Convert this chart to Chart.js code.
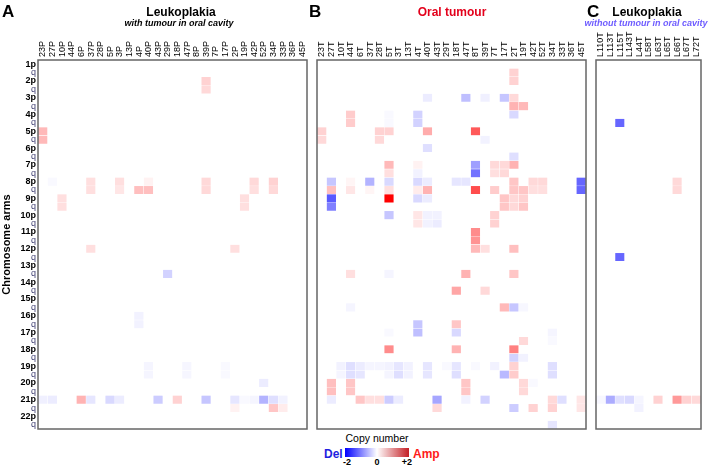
<!DOCTYPE html>
<html>
<head>
<meta charset="utf-8">
<script src="https://cdn.jsdelivr.net/npm/chart.js@4.4.0/dist/chart.umd.min.js"></script>
<style>
  body { margin: 0; width: 709px; height: 467px; background: #fff; position: relative; overflow: hidden;
         font-family: "Liberation Sans", Arial, sans-serif; }
  canvas { position: absolute; top: 0; }
  .txt { position: absolute; white-space: nowrap; line-height: 1; font-weight: bold; }
  .mid { transform: translateX(-50%); }
</style>
</head>
<body>
<canvas id="chart-a" width="310" height="432" style="left:0"></canvas>
<canvas id="chart-b" width="275" height="432" style="left:314px"></canvas>
<canvas id="chart-c" width="111" height="432" style="left:593px"></canvas>

<div class="txt" style="left:2px;top:3px;font-size:17px">A</div>
<div class="txt mid" style="left:181px;top:6px;font-size:12px">Leukoplakia</div>
<div class="txt mid" style="left:179px;top:19px;font-size:9px;font-style:italic">with tumour in oral cavity</div>

<div class="txt" style="left:309px;top:3px;font-size:17px">B</div>
<div class="txt mid" style="left:452px;top:6px;font-size:12px;color:#e3001b">Oral tumour</div>

<div class="txt" style="left:587px;top:3px;font-size:17px">C</div>
<div class="txt mid" style="left:647px;top:6px;font-size:12px">Leukoplakia</div>
<div class="txt mid" style="left:646px;top:19px;font-size:9px;font-style:italic;color:#6e5cff">without tumour in oral cavity</div>

<div class="txt mid" style="left:377px;top:433px;font-size:10.5px;font-weight:normal">Copy number</div>
<div style="position:absolute;left:345px;top:448px;width:64px;height:9px;background:linear-gradient(to right,#0000ff,#ffffff 50%,#c41e24)"></div>
<div class="txt" style="left:324px;top:448px;font-size:12px;color:#1f1fe0">Del</div>
<div class="txt" style="left:413px;top:448px;font-size:12px;color:#ff1a1a">Amp</div>
<div class="txt mid" style="left:347px;top:458px;font-size:9px">-2</div>
<div class="txt mid" style="left:377px;top:458px;font-size:9px">0</div>
<div class="txt mid" style="left:407px;top:458px;font-size:9px">+2</div>

<script>
const arms = ['1p','1q','2p','2q','3p','3q','4p','4q','5p','5q','6p','6q','7p','7q','8p','8q',
  '9p','9q','10p','10q','11p','11q','12p','12q','13p','13q','14p','14q','15p','15q','16p','16q',
  '17p','17q','18p','18q','19p','19q','20p','20q','21p','21q','22p','22q'];
const armLabels = arms.map(a => a.endsWith('q') ? 'q' : a);

const colsA = ['23P','27P','10P','44P','6P','37P','28P','5P','3P','13P','4P','40P','43P','29P',
  '18P','47P','8P','39P','7P','17P','2P','19P','42P','52P','34P','33P','36P','45P'];
const colsB = ['23T','27T','10T','44T','6T','37T','28T','5T','3T','13T','4T','40T','43T','29T',
  '18T','47T','8T','39T','7T','17T','2T','19T','42T','52T','34T','33T','36T','45T'];
const colsC = ['L110T','L113T','L115T','L143T','L44T','L58T','L63T','L65T','L66T','L67T','L72T'];

// copy number calls: [sample, arm, value]
const cellsA = [
  ['39P','2p',0.35],['39P','2q',0.3],
  ['23P','5p',0.55],['23P','5q',0.55],
  ['27P','8p',-0.05],['37P','8p',0.25],['3P','8p',0.25],['40P','8p',0.1],['39P','8p',0.3],['42P','8p',0.3],['34P','8p',0.35],
  ['37P','8q',0.25],['3P','8q',0.2],['4P','8q',0.5],['40P','8q',0.5],['39P','8q',0.3],['42P','8q',0.25],['34P','8q',0.3],
  ['10P','9p',0.25],['10P','9q',0.25],['19P','9p',0.25],['19P','9q',0.25],
  ['37P','12p',0.25],['2P','12p',0.25],
  ['29P','13q',-0.35],
  ['4P','16p',-0.1],['4P','16q',-0.1],
  ['40P','19p',-0.08],['40P','19q',-0.08],['47P','19p',-0.07],['47P','19q',-0.07],['17P','19p',-0.05],['17P','19q',-0.05],
  ['52P','20p',-0.15],
  ['23P','21p',-0.12],['27P','21p',-0.15],['6P','21p',0.6],['37P','21p',-0.2],['5P','21p',-0.3],['3P','21p',-0.15],
  ['43P','21p',-0.4],['18P','21p',0.35],['39P','21p',-0.45],['2P','21p',-0.2],['19P','21p',-0.05],['42P','21p',-0.08],
  ['52P','21p',-0.6],['34P','21p',-0.25],['33P','21p',-0.1],
  ['2P','21q',0.1],['34P','21q',0.45],['33P','21q',0.15]
];

const cellsB = [
  ['2T','1q',0.35],['2T','2p',0.35],
  ['40T','3p',-0.15],['47T','3p',-0.5],['39T','3p',-0.12],['17T','3p',-0.45],['2T','3p',0.3],
  ['2T','3q',0.6],['19T','3q',0.55],
  ['44T','4p',0.4],['5T','4p',-0.05],['4T','4p',-0.35],['2T','4p',-0.3],
  ['44T','4q',0.4],['5T','4q',-0.05],['4T','4q',-0.35],
  ['23T','5p',0.35],['28T','5p',0.35],['5T','5p',0.35],['40T','5p',0.65],['8T','5p',1.3],
  ['23T','5q',0.3],['28T','5q',0.3],['39T','5q',-0.1],
  ['40T','6p',-0.25],['2T','6q',-0.25],
  ['5T','7p',0.55],['4T','7p',0.1],['8T','7p',-0.75],['7T','7p',0.3],['17T','7p',0.3],['2T','7p',0.6],
  ['5T','7q',0.25],['4T','7q',-0.1],['8T','7q',-1.1],['7T','7q',0.25],['17T','7q',0.3],
  ['27T','8p',-0.45],['44T','8p',0.08],['37T','8p',-0.6],['5T','8p',-0.3],['4T','8p',-0.3],['40T','8p',-0.15],
  ['18T','8p',-0.2],['47T','8p',-0.2],['2T','8p',0.45],['42T','8p',0.3],['52T','8p',0.3],['45T','8p',-1.2],
  ['27T','8q',0.5],['44T','8q',0.2],['37T','8q',0.08],['5T','8q',0.25],['4T','8q',0.15],['40T','8q',0.6],
  ['8T','8q',1.4],['7T','8q',0.4],['2T','8q',0.45],['19T','8q',0.45],['42T','8q',0.25],['52T','8q',0.25],['45T','8q',-1.2],
  ['27T','9p',-1.3],['5T','9p',2.0],['4T','9p',-0.3],['40T','9p',-0.15],['17T','9p',0.45],['2T','9p',0.3],['19T','9p',0.35],
  ['27T','9q',-1.0],['17T','9q',0.45],['2T','9q',0.3],['19T','9q',0.45],
  ['5T','10p',-0.45],['4T','10p',0.2],['40T','10p',-0.1],['43T','10p',-0.1],['7T','10p',0.35],
  ['4T','10q',0.2],['40T','10q',-0.1],['43T','10q',-0.15],['7T','10q',0.35],
  ['8T','11p',0.9],['8T','11q',0.85],
  ['8T','12p',0.55],['39T','12p',0.25],['2T','12p',0.5],
  ['44T','13q',0.25],['5T','13q',-0.08],['47T','13q',0.6],['2T','13q',0.45],
  ['18T','14q',0.7],['39T','14q',0.3],
  ['44T','15q',-0.08],['17T','15q',0.55],['2T','15q',-0.45],['19T','15q',-0.06],
  ['4T','16q',-0.45],['18T','16q',0.45],
  ['4T','17p',-0.5],['18T','17p',-0.3],['5T','17p',-0.05],['34T','17p',-0.08],
  ['19T','17q',0.3],['34T','17q',-0.05],
  ['5T','18p',0.9],['18T','18p',0.6],['2T','18p',1.0],
  ['2T','18q',-0.35],['19T','18q',-0.1],
  ['10T','19p',-0.1],['44T','19p',-0.25],['6T','19p',-0.15],['37T','19p',-0.08],['28T','19p',-0.08],['5T','19p',-0.1],
  ['3T','19p',-0.2],['13T','19p',-0.1],['40T','19p',-0.2],['29T','19p',-0.05],['18T','19p',-0.2],['8T','19p',-0.05],
  ['7T','19p',-0.1],['2T','19p',0.35],['34T','19p',-0.25],
  ['10T','19q',-0.08],['44T','19q',-0.25],['6T','19q',-0.2],['5T','19q',-0.08],['3T','19q',-0.25],['13T','19q',-0.1],
  ['40T','19q',-0.2],['18T','19q',-0.25],['17T','19q',-0.55],['2T','19q',0.4],['34T','19q',-0.25],
  ['27T','20p',0.5],['44T','20p',0.45],['47T','20p',0.45],['19T','20p',0.3],['42T','20p',-0.05],
  ['27T','20q',0.5],['44T','20q',0.45],['47T','20q',0.45],['19T','20q',0.3],
  ['27T','21p',-0.15],['6T','21p',0.45],['37T','21p',0.25],['28T','21p',0.25],['5T','21p',-0.4],['3T','21p',-0.15],
  ['43T','21p',-0.7],['47T','21p',-0.1],['39T','21p',-0.35],['34T','21p',0.3],['33T','21p',-0.25],['45T','21p',0.2],
  ['43T','21q',0.3],['2T','21q',-0.4],['42T','21q',0.35],['34T','21q',0.35],['45T','21q',0.2],
  ['34T','22q',-0.2]
];

const cellsC = [
  ['L115T','4q',-1.2],['L115T','12q',-1.2],
  ['L66T','8p',0.3],['L66T','8q',0.3],
  ['L110T','21p',-0.06],['L113T','21p',-0.65],['L115T','21p',-0.25],['L143T','21p',-0.3],['L44T','21p',-0.08],
  ['L63T','21p',0.35],['L66T','21p',0.8],['L67T','21p',0.35],['L72T','21p',0.3],
  ['L44T','21q',-0.1]
];

Chart.defaults.font.family = '"Liberation Sans", Arial, sans-serif';
Chart.defaults.color = '#000';

function cnColor(v) {
  if (!v) return 'rgba(255,255,255,0)';
  const t = Math.min(Math.abs(v) / 2, 1);
  const k = Math.round(255 * (1 - t));
  return v > 0 ? `rgb(255,${k},${k})` : `rgb(${k},${k},255)`;
}

const boxPlugin = {
  id: 'box',
  afterDraw(chart) {
    const { ctx, chartArea: a } = chart;
    ctx.save();
    ctx.strokeStyle = '#666';
    ctx.lineWidth = 1.5;
    ctx.strokeRect(a.left, a.top, a.right - a.left, a.bottom - a.top);
    ctx.restore();
  }
};

function makeChart(id, cols, cells, showRows, padLeft, padRight) {
  const grid = arms.map(() => cols.map(() => 0));
  cells.forEach(([c, arm, v]) => { grid[arms.indexOf(arm)][cols.indexOf(c)] = v; });

  const datasets = arms.map((arm, r) => ({
    label: arm,
    data: cols.map(() => 1),
    backgroundColor: grid[r].map(cnColor),
    borderColor: 'rgba(255,255,255,0.6)',
    borderWidth: 0.5,
    borderSkipped: false,
    barPercentage: 1,
    categoryPercentage: 1
  }));

  return new Chart(document.getElementById(id), {
    type: 'bar',
    data: { labels: cols, datasets },
    options: {
      responsive: false,
      animation: false,
      layout: { padding: { left: padLeft, right: padRight, top: 0, bottom: 3 } },
      plugins: { legend: { display: false }, tooltip: { enabled: false } },
      scales: {
        x: {
          position: 'top',
          stacked: true,
          grid: { display: false, drawTicks: false },
          border: { display: false },
          ticks: { autoSkip: false, minRotation: 90, maxRotation: 90, padding: 3, labelOffset: 11,
                   font: { size: 9 }, color: '#000' },
          afterFit: s => { s.height = 60; s.paddingLeft = 0; s.paddingRight = 0; }
        },
        y: {
          display: showRows,
          stacked: true,
          reverse: true,
          min: 0,
          max: arms.length,
          grid: { display: false, drawTicks: false },
          border: { display: false },
          afterBuildTicks: s => { s.ticks = arms.map((_, i) => ({ value: i + 0.5 })); },
          ticks: {
            autoSkip: false,
            padding: 2,
            callback: (v, i) => armLabels[i],
            font: c => ({ size: 9, weight: c.index % 2 ? 'normal' : 'bold' }),
            color: c => c.index % 2 ? '#3d3d70' : '#000'
          },
          title: { display: showRows, text: 'Chromosome arms', font: { size: 11, weight: 'bold' }, color: '#000', padding: 0 },
          afterFit: s => {
            s.width = showRows ? 38 : 0;
            s.paddingTop = 0;
            s.paddingBottom = 0;
          }
        }
      }
    },
    plugins: [boxPlugin]
  });
}

makeChart('chart-a', colsA, cellsA, true, 0, 3);
makeChart('chart-b', colsB, cellsB, false, 3, 3);
makeChart('chart-c', colsC, cellsC, false, 3, 3);
</script>
</body>
</html>
